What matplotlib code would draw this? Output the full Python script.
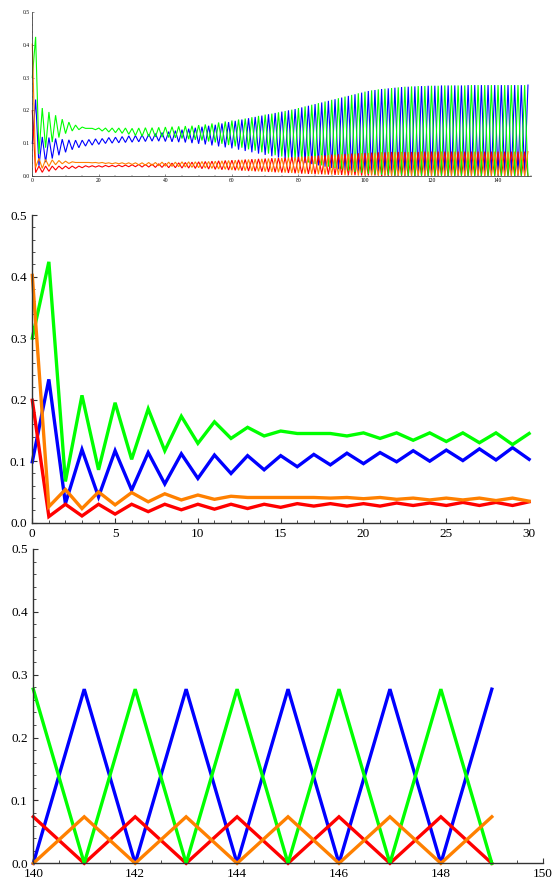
import matplotlib
matplotlib.use("Agg")
import matplotlib.pyplot as plt
from matplotlib.ticker import MultipleLocator, FormatStrFormatter

# values, t = 0 .. 149
green = [
    0.300, 0.424, 0.067, 0.207, 0.086, 0.195, 0.103, 0.185, 0.117, 0.173,
    0.129, 0.164, 0.137, 0.155, 0.141, 0.149, 0.145, 0.145, 0.145, 0.141,
    0.146, 0.137, 0.146, 0.134, 0.146, 0.132, 0.146, 0.130, 0.146, 0.127,
    0.145, 0.123, 0.146, 0.121, 0.147, 0.120, 0.147, 0.119, 0.148, 0.118,
    0.149, 0.117, 0.150, 0.116, 0.151, 0.114, 0.152, 0.112, 0.153, 0.110,
    0.155, 0.108, 0.157, 0.105, 0.160, 0.102, 0.163, 0.098, 0.166, 0.094,
    0.169, 0.090, 0.172, 0.086, 0.175, 0.081, 0.179, 0.077, 0.183, 0.072,
    0.187, 0.068, 0.190, 0.063, 0.194, 0.059, 0.198, 0.054, 0.202, 0.050,
    0.207, 0.045, 0.212, 0.041, 0.217, 0.036, 0.222, 0.032, 0.227, 0.028,
    0.232, 0.024, 0.237, 0.020, 0.242, 0.016, 0.247, 0.012, 0.252, 0.009,
    0.257, 0.006, 0.261, 0.004, 0.264, 0.003, 0.266, 0.002, 0.268, 0.001,
    0.270, 0.001, 0.272, 0.000, 0.273, 0.000, 0.274, 0.000, 0.274, 0.000,
    0.275, 0.000, 0.275, 0.000, 0.276, 0.000, 0.276, 0.000, 0.276, 0.000,
    0.276, 0.000, 0.277, 0.000, 0.277, 0.000, 0.277, 0.000, 0.277, 0.000,
    0.277, 0.000, 0.277, 0.000, 0.277, 0.000, 0.277, 0.000, 0.277, 0.000,
]
blue = [
    0.099, 0.233, 0.031, 0.119, 0.042, 0.117, 0.053, 0.114, 0.063, 0.112,
    0.072, 0.110, 0.080, 0.109, 0.086, 0.109, 0.091, 0.111, 0.094, 0.113,
    0.096, 0.114, 0.099, 0.117, 0.100, 0.118, 0.101, 0.120, 0.102, 0.122,
    0.103, 0.123, 0.104, 0.125, 0.105, 0.127, 0.106, 0.129, 0.106, 0.132,
    0.105, 0.135, 0.104, 0.138, 0.103, 0.141, 0.102, 0.144, 0.100, 0.147,
    0.098, 0.150, 0.096, 0.153, 0.093, 0.156, 0.090, 0.160, 0.087, 0.164,
    0.084, 0.168, 0.080, 0.172, 0.076, 0.176, 0.072, 0.180, 0.068, 0.184,
    0.064, 0.188, 0.060, 0.192, 0.056, 0.196, 0.052, 0.200, 0.048, 0.204,
    0.044, 0.209, 0.040, 0.214, 0.036, 0.219, 0.032, 0.224, 0.028, 0.229,
    0.024, 0.234, 0.020, 0.239, 0.016, 0.244, 0.013, 0.249, 0.010, 0.254,
    0.007, 0.259, 0.005, 0.262, 0.003, 0.265, 0.002, 0.267, 0.001, 0.269,
    0.001, 0.271, 0.000, 0.272, 0.000, 0.273, 0.000, 0.274, 0.000, 0.275,
    0.000, 0.275, 0.000, 0.276, 0.000, 0.276, 0.000, 0.276, 0.000, 0.276,
    0.000, 0.277, 0.000, 0.277, 0.000, 0.277, 0.000, 0.277, 0.000, 0.277,
    0.000, 0.277, 0.000, 0.277, 0.000, 0.277, 0.000, 0.277, 0.000, 0.277,
]
red = [
    0.199, 0.010, 0.030, 0.011, 0.030, 0.014, 0.030, 0.018, 0.030, 0.021,
    0.030, 0.022, 0.030, 0.023, 0.030, 0.025, 0.031, 0.027, 0.031, 0.027,
    0.031, 0.027, 0.032, 0.028, 0.032, 0.028, 0.033, 0.028, 0.033, 0.028,
    0.034, 0.028, 0.035, 0.027, 0.035, 0.027, 0.036, 0.026, 0.037, 0.026,
    0.038, 0.025, 0.039, 0.025, 0.040, 0.024, 0.041, 0.024, 0.042, 0.023,
    0.043, 0.022, 0.044, 0.021, 0.045, 0.020, 0.046, 0.019, 0.047, 0.018,
    0.048, 0.017, 0.049, 0.016, 0.050, 0.015, 0.051, 0.014, 0.052, 0.013,
    0.053, 0.012, 0.054, 0.011, 0.055, 0.010, 0.056, 0.009, 0.057, 0.008,
    0.058, 0.007, 0.059, 0.006, 0.061, 0.005, 0.062, 0.005, 0.063, 0.004,
    0.065, 0.003, 0.066, 0.003, 0.067, 0.002, 0.068, 0.002, 0.069, 0.001,
    0.070, 0.001, 0.071, 0.001, 0.072, 0.000, 0.072, 0.000, 0.073, 0.000,
    0.073, 0.000, 0.073, 0.000, 0.073, 0.000, 0.073, 0.000, 0.074, 0.000,
    0.074, 0.000, 0.074, 0.000, 0.074, 0.000, 0.074, 0.000, 0.074, 0.000,
    0.074, 0.000, 0.074, 0.000, 0.074, 0.000, 0.074, 0.000, 0.074, 0.000,
    0.074, 0.000, 0.074, 0.000, 0.074, 0.000, 0.074, 0.000, 0.074, 0.000,
]
orange = [
    0.402, 0.026, 0.054, 0.023, 0.050, 0.029, 0.049, 0.034, 0.047, 0.037,
    0.045, 0.038, 0.043, 0.041, 0.041, 0.041, 0.041, 0.041, 0.040, 0.041,
    0.039, 0.041, 0.038, 0.040, 0.037, 0.040, 0.037, 0.040, 0.036, 0.040,
    0.035, 0.040, 0.034, 0.040, 0.033, 0.041, 0.032, 0.041, 0.031, 0.042,
    0.030, 0.042, 0.029, 0.042, 0.028, 0.043, 0.027, 0.043, 0.026, 0.043,
    0.025, 0.044, 0.024, 0.044, 0.023, 0.045, 0.021, 0.046, 0.020, 0.047,
    0.018, 0.048, 0.017, 0.049, 0.016, 0.050, 0.015, 0.051, 0.014, 0.052,
    0.013, 0.053, 0.012, 0.054, 0.011, 0.055, 0.010, 0.056, 0.009, 0.057,
    0.008, 0.059, 0.007, 0.060, 0.006, 0.061, 0.005, 0.063, 0.004, 0.064,
    0.004, 0.065, 0.003, 0.066, 0.002, 0.067, 0.002, 0.068, 0.001, 0.069,
    0.001, 0.070, 0.001, 0.071, 0.000, 0.072, 0.000, 0.073, 0.000, 0.073,
    0.000, 0.073, 0.000, 0.073, 0.000, 0.073, 0.000, 0.074, 0.000, 0.074,
    0.000, 0.074, 0.000, 0.074, 0.000, 0.074, 0.000, 0.074, 0.000, 0.074,
    0.000, 0.074, 0.000, 0.074, 0.000, 0.074, 0.000, 0.074, 0.000, 0.074,
    0.000, 0.074, 0.000, 0.074, 0.000, 0.074, 0.000, 0.074, 0.000, 0.074,
]
t = list(range(len(green)))

# drawing order as seen at crossings: blue under green, red under orange
series = [(blue, "#0000ff"), (red, "#ff0000"), (green, "#00ff00"), (orange, "#ff8000")]

plt.rcParams["font.family"] = ["Liberation Serif", "DejaVu Serif"]

fig = plt.figure(figsize=(5.52, 8.84), dpi=100)

panels = [
    # rect, xlim, x major, x minor, font size, line width, tick scale
    ([0.0585, 0.801, 0.904, 0.1855], (0, 150), 20, 5, 4.0, 0.8, 0.5),
    ([0.0585, 0.4087, 0.900, 0.348], (0, 30), 5, 1, 9.5, 2.4, 1.0),
    ([0.0603, 0.0234, 0.923, 0.3556], (140, 150), 2, 0.5, 9.5, 2.4, 1.0),
]

for rect, xlim, xmaj, xmin, fs, lw, sc in panels:
    ax = fig.add_axes(rect)
    lo, hi = xlim
    idx = [i for i in t if lo <= i <= hi]
    for ys, col in series:
        ax.plot(idx, [ys[i] for i in idx], color=col, lw=lw,
                solid_joinstyle="miter", clip_on=False)
    ax.set_xlim(lo, hi)
    ax.set_ylim(0, 0.5)
    for s in ("top", "right"):
        ax.spines[s].set_visible(False)
    for s in ("left", "bottom"):
        ax.spines[s].set_color("#333333")
        ax.spines[s].set_linewidth(0.9 * sc + 0.1)
    ax.xaxis.set_major_locator(MultipleLocator(xmaj))
    ax.xaxis.set_minor_locator(MultipleLocator(xmin))
    ax.yaxis.set_major_locator(MultipleLocator(0.1))
    ax.yaxis.set_minor_locator(MultipleLocator(0.02))
    ax.yaxis.set_major_formatter(FormatStrFormatter("%.1f"))
    ax.tick_params(which="major", direction="in", length=3.5 * sc, width=0.8 * sc,
                   color="#333333", labelsize=fs)
    ax.tick_params(which="minor", direction="in", length=2 * sc, width=0.6 * sc,
                   color="#333333")
    ax.tick_params(axis="x", which="major", pad=3.5 * sc)
    ax.tick_params(axis="y", which="major", pad=4 * sc)
    ax.patch.set_alpha(0)

fig.savefig("out.png", dpi=100)
